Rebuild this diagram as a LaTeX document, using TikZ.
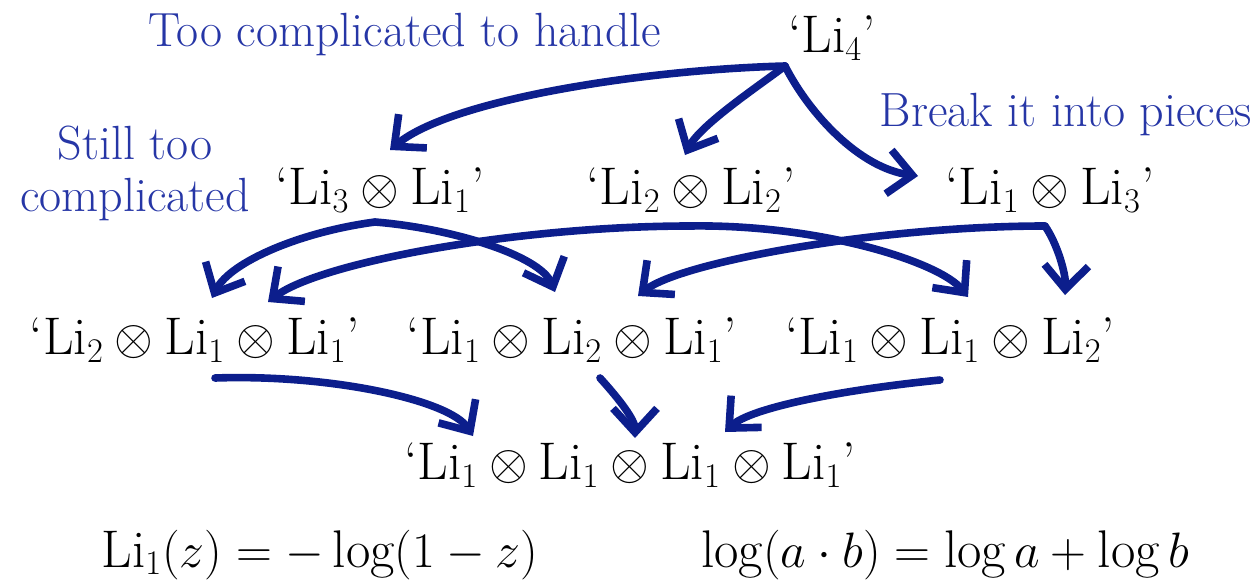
\documentclass[tikz,border=0pt]{standalone}
\usepackage{amsmath,amssymb}
\usepackage{fontspec}
\usepackage{tikz}
\usepackage{xcolor}
\usetikzlibrary{arrows.meta,calc}
\definecolor{arrowblue}{RGB}{12,30,140}
\definecolor{noteblue}{RGB}{38,54,166}
\tikzset{
  term/.style  ={inner sep=0pt, font=\fontsize{26.5}{31}\selectfont},
  note/.style  ={inner sep=0pt, align=center, text=noteblue,
                 font=\fontsize{24}{26}\selectfont},
  ar/.style    ={-{Straight Barb[length=12pt,width=22pt]}, line width=3.8pt,
                 draw=arrowblue, line cap=round, line join=round},
}
\newcommand{\Li}[1]{\mathrm{Li}_{#1}}

\begin{document}
\begin{tikzpicture}[x=0.5pt,y=-0.5pt]
\useasboundingbox (0,0) rectangle (1256,583);

\node[term] (li4) at (832,38) {‘$\Li{4}$’};
\node[note] (hard) at (405,35) {Too complicated to handle};
\node[note] (brk) at (1066,115) {Break it into pieces};
\node[note] (still) at (135,173) {Still too\\complicated};

\node[term] (a31) at (380,190) {‘$\Li{3}\otimes\Li{1}$’};
\node[term] (a22) at (691,190) {‘$\Li{2}\otimes\Li{2}$’};
\node[term] (a13) at (1050,190) {‘$\Li{1}\otimes\Li{3}$’};

\node[term] (b211) at (195,340) {‘$\Li{2}\otimes\Li{1}\otimes\Li{1}$’};
\node[term] (b121) at (572,340) {‘$\Li{1}\otimes\Li{2}\otimes\Li{1}$’};
\node[term] (b112) at (950,340) {‘$\Li{1}\otimes\Li{1}\otimes\Li{2}$’};

\node[term] (c1111) at (630,465) {‘$\Li{1}\otimes\Li{1}\otimes\Li{1}\otimes\Li{1}$’};

\node[term] (eqli) at (320,555) {$\Li{1}(z)=-\log(1-z)$};
\node[term] (eqlog) at (945,555) {$\log(a\cdot b)=\log a+\log b$};

% first split
\draw[ar] ($(li4)+(-47,28)$) .. controls (640,70) and (450,100) .. ($(a31)+(10,-40)$);
\draw[ar] ($(li4)+(-47,28)$) .. controls (760,85) and (700,125) .. ($(a22)+(-6,-35)$);
\draw[ar] ($(li4)+(-47,28)$) .. controls (810,115) and (860,168) .. ($(a13)+(-132,-14)$);

% second split
\draw[ar] ($(a31)+(-5,32)$) .. controls (300,232) and (230,262) .. ($(b211)+(17,-42)$);
\draw[ar] ($(a31)+(-5,32)$) .. controls (450,228) and (540,255) .. ($(b121)+(-17,-48)$);
\draw[ar] ($(a22)+(-1,36)$) .. controls (520,226) and (320,262) .. ($(b211)+(73,-38)$);
\draw[ar] ($(a22)+(-1,36)$) .. controls (820,224) and (940,262) .. ($(b112)+(18,-43)$);
\draw[ar] ($(a13)+(-5,36)$) .. controls (880,226) and (680,262) .. ($(b121)+(66,-44)$);
\draw[ar] ($(a13)+(-5,36)$) .. controls (1058,245) and (1066,275) .. ($(b112)+(115,-45)$);

% last step
\draw[ar] ($(b211)+(20,38)$) .. controls (330,374) and (450,400) .. ($(c1111)+(-157,-29)$);
\draw[ar] ($(b121)+(28,38)$) .. controls (620,400) and (635,420) .. ($(c1111)+(5,-27)$);
\draw[ar] ($(b112)+(-10,40)$) .. controls (840,390) and (750,408) .. ($(c1111)+(95,-33)$);

\end{tikzpicture}
\end{document}
